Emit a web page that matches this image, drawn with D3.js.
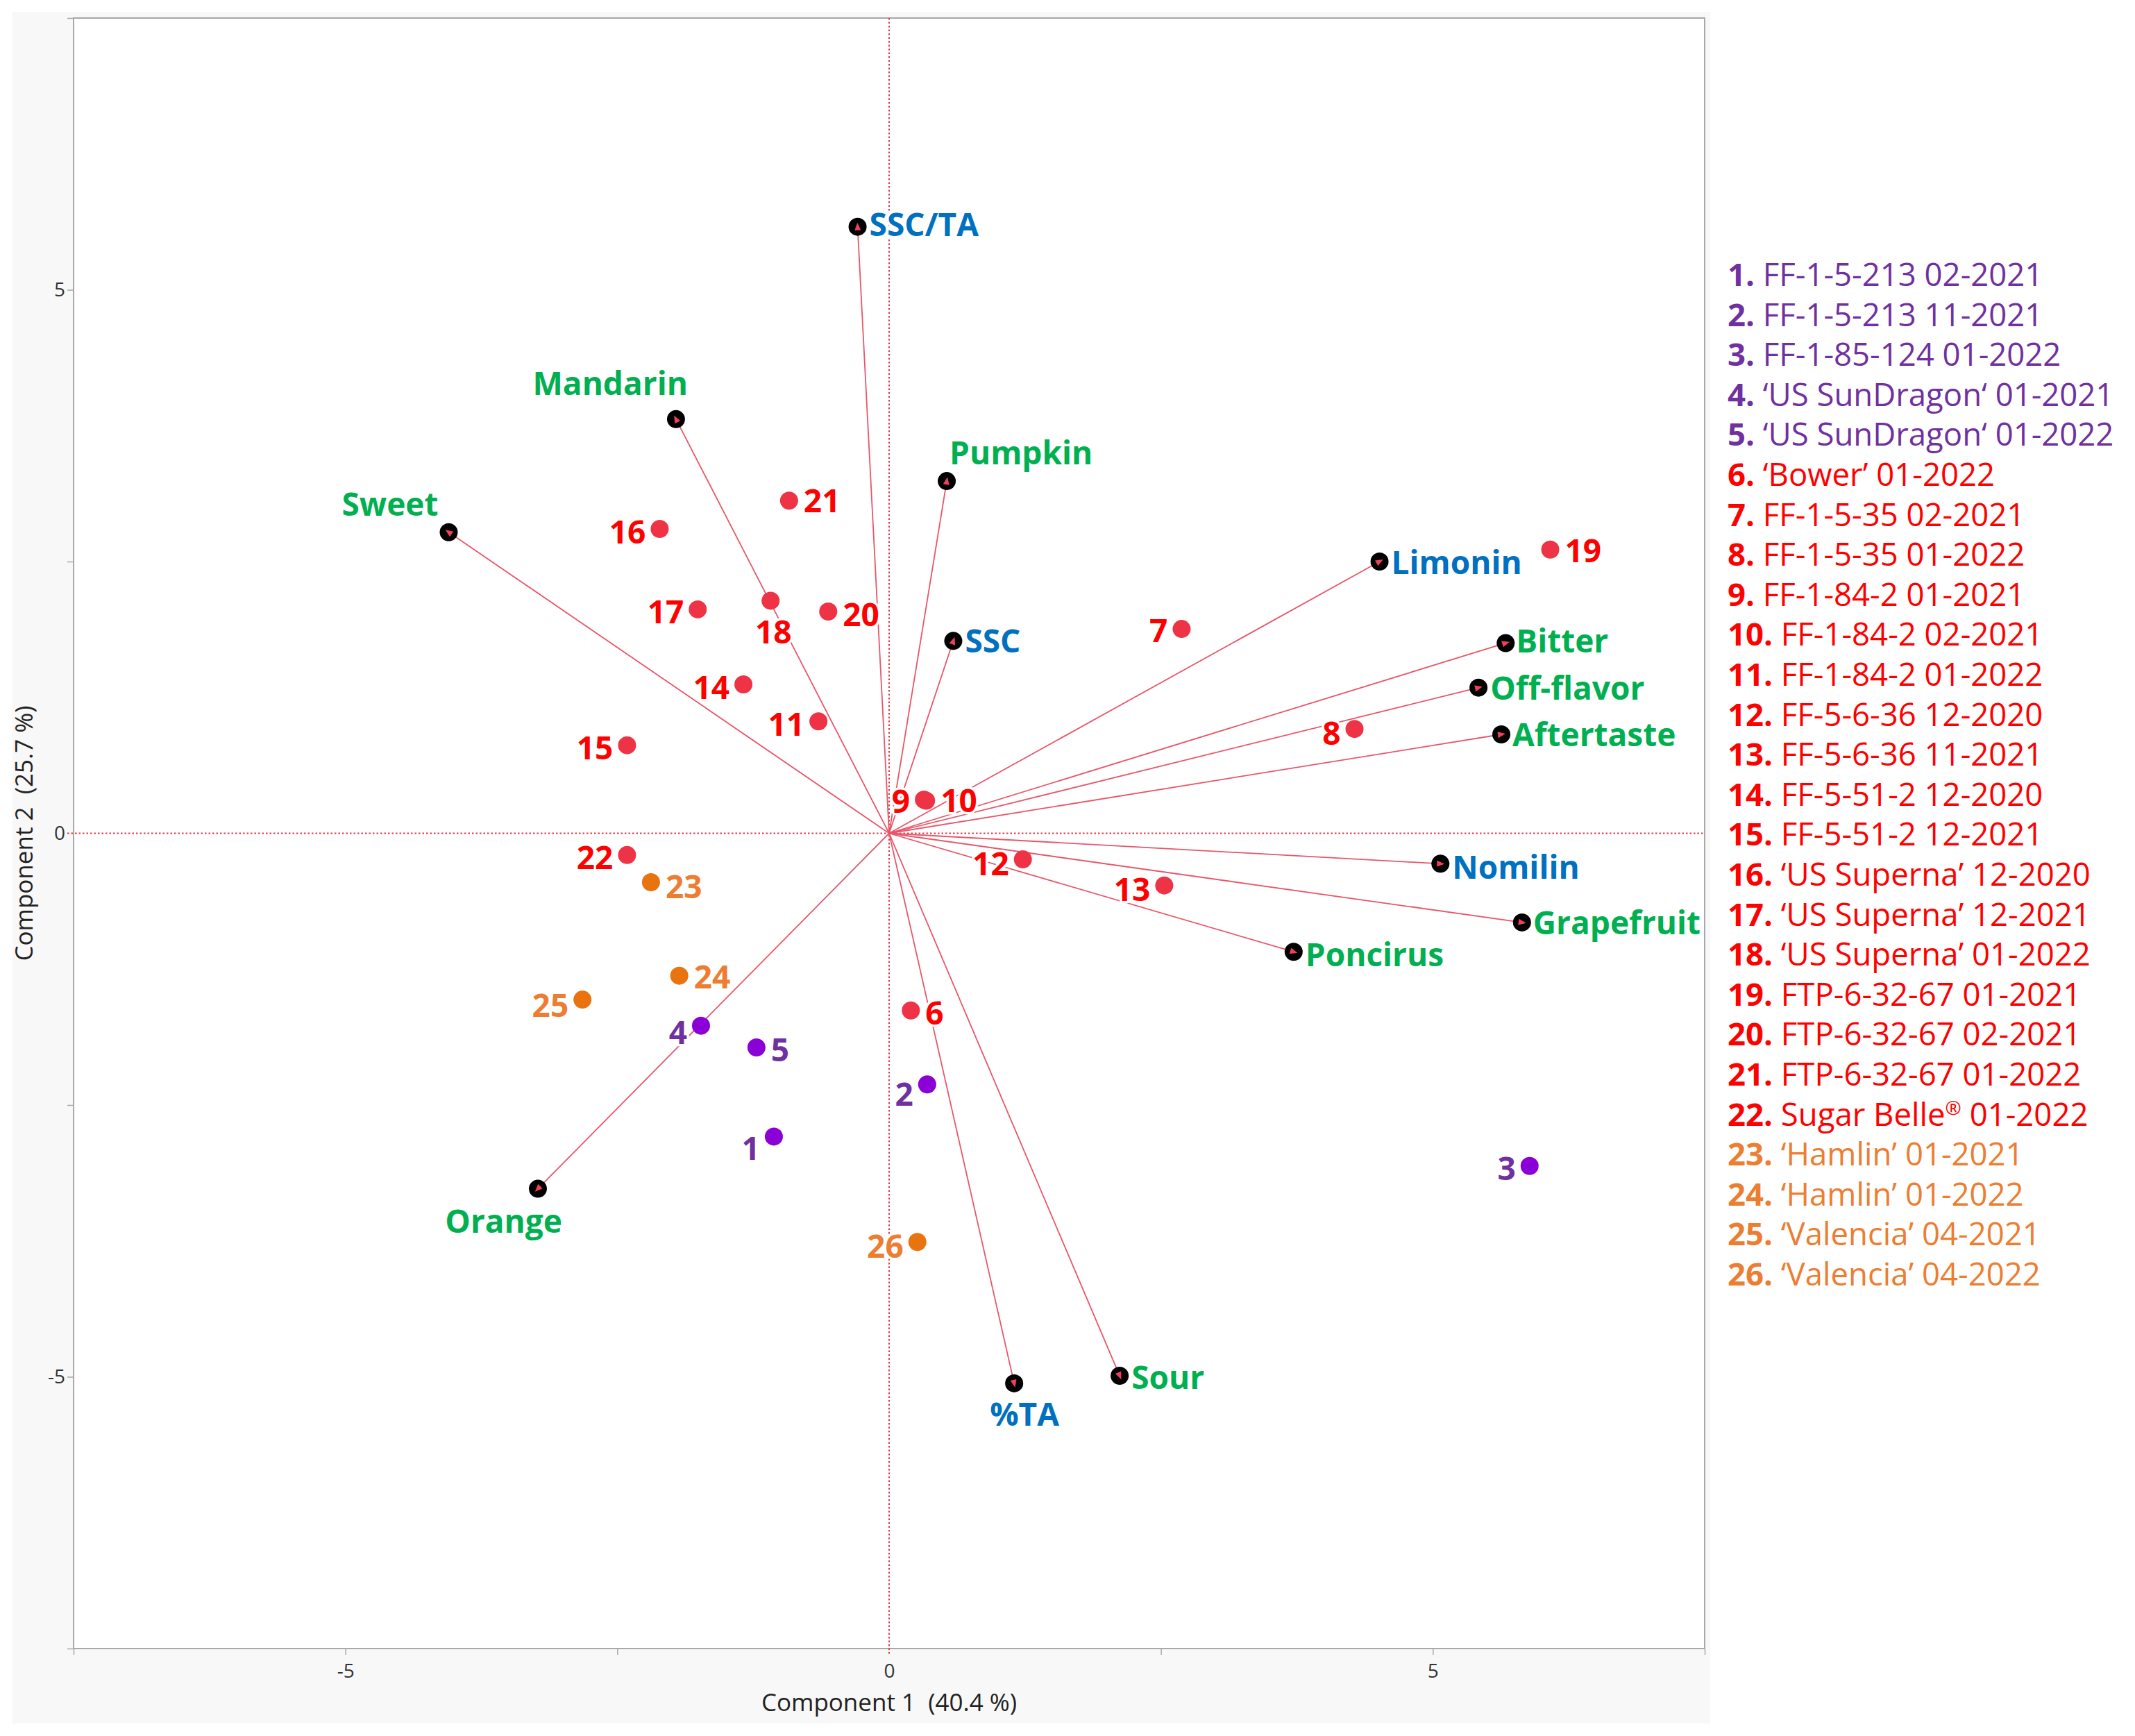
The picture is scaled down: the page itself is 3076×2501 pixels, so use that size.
<!DOCTYPE html>
<html><head><meta charset="utf-8">
<script src="https://cdn.jsdelivr.net/npm/d3@7/dist/d3.min.js"></script>
<style>
body{margin:0;background:#fff}
svg text{font-family:"Open Sans","Noto Sans",sans-serif}
</style>
</head><body>
<svg id="chart" width="3076" height="2501"></svg>
<script>
// ---------- data ----------
const loadNames = ["SSC/TA","Mandarin","Sweet","Pumpkin","SSC","Limonin","Bitter","Off-flavor","Aftertaste","Nomilin","Grapefruit","Poncirus","Sour","%TA","Orange"];
const loadPC1   = [-0.29,-1.96,-4.05,0.53,0.59,4.51,5.67,5.42,5.63,5.07,5.82,3.72,2.12,1.15,-3.23];
const loadPC2   = [5.58,3.81,2.77,3.24,1.77,2.50,1.75,1.34,0.91,-0.28,-0.82,-1.09,-4.99,-5.06,-3.27];
const loadType  = ["chem","sensory","sensory","sensory","chem","chem","sensory","sensory","sensory","chem","sensory","sensory","sensory","chem","sensory"];

const sampleIds  = ["1","2","3","4","5","6","7","8","9","10","11","12","13","14","15","16","17","18","19","20","21","22","23","24","25","26"];
const samplePC1  = [-1.06,0.35,5.89,-1.73,-1.22,0.20,2.69,4.28,0.32,0.34,-0.65,1.23,2.53,-1.34,-2.41,-2.11,-1.76,-1.09,6.08,-0.56,-0.92,-2.41,-2.19,-1.93,-2.82,0.26];
const samplePC2  = [-2.79,-2.31,-3.06,-1.77,-1.97,-1.63,1.88,0.96,0.31,0.30,1.03,-0.24,-0.48,1.37,0.81,2.80,2.06,2.14,2.61,2.04,3.06,-0.20,-0.45,-1.31,-1.53,-3.76];
const sampleGroup = ["p","p","p","p","p","r","r","r","r","r","r","r","r","r","r","r","r","r","r","r","r","r","o","o","o","o"];
const sampleNames = ["FF-1-5-213 02-2021","FF-1-5-213 11-2021","FF-1-85-124 01-2022","\u2018US SunDragon\u2018 01-2021","\u2018US SunDragon\u2018 01-2022",
  "\u2018Bower\u2019 01-2022","FF-1-5-35 02-2021","FF-1-5-35 01-2022","FF-1-84-2 01-2021","FF-1-84-2 02-2021","FF-1-84-2 01-2022",
  "FF-5-6-36 12-2020","FF-5-6-36 11-2021","FF-5-51-2 12-2020","FF-5-51-2 12-2021","\u2018US Superna\u2019 12-2020","\u2018US Superna\u2019 12-2021",
  "\u2018US Superna\u2019 01-2022","FTP-6-32-67 01-2021","FTP-6-32-67 02-2021","FTP-6-32-67 01-2022","Sugar Belle\u00AE 01-2022",
  "\u2018Hamlin\u2019 01-2021","\u2018Hamlin\u2019 01-2022","\u2018Valencia\u2019 04-2021","\u2018Valencia\u2019 04-2022"];

const xTicks = [-7.5,-5,-2.5,0,2.5,5,7.5];
const yTicks = [-7.5,-5,-2.5,0,2.5,5,7.5];
const tickLabels = [-5,0,5];
const xTitle = "Component 1  (40.4 %)";
const yTitle = "Component 2  (25.7 %)";

// ---------- layout / style ----------
// label placement: [anchor, dx, dy(text centre)] relative to the marker
const loadLabelLayout = {
  "SSC/TA":["start",17,-3],"Mandarin":["end",17,-51],"Sweet":["end",-15,-40],"Pumpkin":["start",4,-41],
  "SSC":["start",17,0],"Limonin":["start",17,1],"Bitter":["start",15,-3],"Off-flavor":["start",17,1],
  "Aftertaste":["start",16,0],"Nomilin":["start",17,5],"Grapefruit":["start",16,1],"Poncirus":["start",17,4],
  "Sour":["start",17,3],"%TA":["start",-35,45],"Orange":["end",35,47]
};
const sampleSide = ["W","W","W","W","E","E","W","W","W","E","W","W","W","W","W","W","W","S","E","E","E","W","E","E","W","W"];
const sampleDy   = [17,14,4,10,3,4,2,6,2,0,4,6,6,4,4,4,4,45,2,4,0,4,6,2,8,6];

const markColor  = {p:"#8a00d6", r:"#ef3346", o:"#e8730f"};
const labelColor = {p:"#7030a0", r:"#ff0000", o:"#ed7d31"};
const typeColor  = {chem:"#0070c0", sensory:"#00b050"};

const W = 3076, H = 2501;
const plot = {l:106, r:2456, t:26, b:2375};
const svg = d3.select("#chart");

const x = d3.scaleLinear().domain([-7.5,7.5]).range([plot.l, plot.r]);
const y = d3.scaleLinear().domain([-7.5,7.5]).range([plot.b, plot.t]);

// backgrounds
svg.append("rect").attr("x",0).attr("y",0).attr("width",W).attr("height",H).attr("fill","#fff");
svg.append("rect").attr("x",18).attr("y",17).attr("width",2446).attr("height",2466).attr("fill","#f8f8f8");
svg.append("rect").attr("x",plot.l).attr("y",plot.t).attr("width",plot.r-plot.l).attr("height",plot.b-plot.t)
  .attr("fill","#fff").attr("stroke","#a8a8a8").attr("stroke-width",2);

// axes
const fmt = d => tickLabels.includes(d) ? String(d) : "";
const gx = svg.append("g").attr("transform",`translate(0,${plot.b})`)
  .call(d3.axisBottom(x).tickValues(xTicks).tickSize(9).tickPadding(13).tickFormat(fmt));
const gy = svg.append("g").attr("transform",`translate(${plot.l},0)`)
  .call(d3.axisLeft(y).tickValues(yTicks).tickSize(9).tickPadding(3).tickFormat(fmt));
[gx,gy].forEach(g=>{
  g.select(".domain").remove();
  g.selectAll(".tick line").attr("stroke", d => d===0 ? "none" : "#a8a8a8").attr("stroke-width",1.5);
  g.selectAll(".tick text").attr("fill","#333").style("font-size","28px").style("font-family","'Open Sans',sans-serif");
});

svg.append("text").attr("x",(plot.l+plot.r)/2).attr("y",2465).attr("text-anchor","middle")
  .attr("fill","#222").style("font-size","35px").style("white-space","pre").text(xTitle);
svg.append("text").attr("transform",`translate(47,${(plot.t+plot.b)/2}) rotate(-90)`).attr("text-anchor","middle")
  .attr("fill","#222").style("font-size","35px").style("white-space","pre").text(yTitle);

// zero reference lines
svg.append("line").attr("x1",x(0)).attr("x2",x(0)).attr("y1",plot.t).attr("y2",plot.b+9)
  .attr("stroke","#e03848").attr("stroke-width",2).attr("stroke-dasharray","2.5,3");
svg.append("line").attr("x1",plot.l-9).attr("x2",plot.r).attr("y1",y(0)).attr("y2",y(0))
  .attr("stroke","#e03848").attr("stroke-width",2).attr("stroke-dasharray","2.5,3");

// loadings data
const loads = loadNames.map((n,i)=>({name:n, px:x(loadPC1[i]), py:y(loadPC2[i]), type:loadType[i]}));
const samples = sampleIds.map((id,i)=>({id, px:x(samplePC1[i]), py:y(samplePC2[i]), g:sampleGroup[i], side:sampleSide[i], dy:sampleDy[i]}));

// vector lines
svg.append("g").selectAll("line").data(loads).join("line")
  .attr("x1",x(0)).attr("y1",y(0)).attr("x2",d=>d.px).attr("y2",d=>d.py)
  .attr("stroke","#e8566a").attr("stroke-width",1.8);

// labels (with white halo) for loadings
const capRatio = 0.36;
const gl = svg.append("g");
loads.forEach(d=>{
  const L = loadLabelLayout[d.name];
  gl.append("text").attr("x", d.px + L[1]).attr("y", d.py + L[2] + capRatio*46)
    .attr("text-anchor", L[0]).attr("fill", typeColor[d.type])
    .style("font-size","46px").style("font-weight","700")
    .attr("stroke","#fff").attr("stroke-width",7).attr("stroke-linejoin","round").attr("paint-order","stroke")
    .text(d.name);
});
// sample labels
samples.forEach(d=>{
  let anchor="end", dx=-20;
  if(d.side==="E"){anchor="start"; dx=21;}
  if(d.side==="S"){anchor="middle"; dx=4;}
  gl.append("text").attr("x", d.px + dx).attr("y", d.py + d.dy + capRatio*46)
    .attr("text-anchor", anchor).attr("fill", labelColor[d.g])
    .style("font-size","46px").style("font-weight","700")
    .attr("stroke","#fff").attr("stroke-width",7).attr("stroke-linejoin","round").attr("paint-order","stroke")
    .text(d.id);
});

// loading markers with arrowheads
const gm = svg.append("g");
gm.selectAll("circle").data(loads).join("circle")
  .attr("cx",d=>d.px).attr("cy",d=>d.py).attr("r",13).attr("fill","#000");
gm.selectAll("path").data(loads).join("path")
  .attr("d","M6,0 L-5,-4.5 L-5,4.5 Z").attr("fill","#f0405a")
  .attr("transform",d=>{
    const a = Math.atan2(d.py - y(0), d.px - x(0))*180/Math.PI;
    return `translate(${d.px},${d.py}) rotate(${a})`;
  });

// sample points
svg.append("g").selectAll("circle").data(samples).join("circle")
  .attr("cx",d=>d.px).attr("cy",d=>d.py).attr("r",13).attr("fill",d=>markColor[d.g]);

// legend
const lg = svg.append("g");
const legX = 2489, legY0 = 412, legDy = 57.6;
sampleIds.forEach((id,i)=>{
  const g = sampleGroup[i];
  const t = lg.append("text").attr("x",legX).attr("y",legY0 + i*legDy)
    .attr("fill",labelColor[g]).style("font-size","45.5px");
  t.append("tspan").style("font-weight","700").text(id + ".");
  const nm = sampleNames[i];
  if(nm.includes("\u00AE")){
    const parts = nm.split("\u00AE");
    t.append("tspan").text(" " + parts[0]);
    t.append("tspan").attr("dy",-16).style("font-size","28px").text("\u00AE");
    t.append("tspan").attr("dy",16).text(parts[1]);
  } else {
    t.append("tspan").text(" " + nm);
  }
});
</script>
</body></html>
